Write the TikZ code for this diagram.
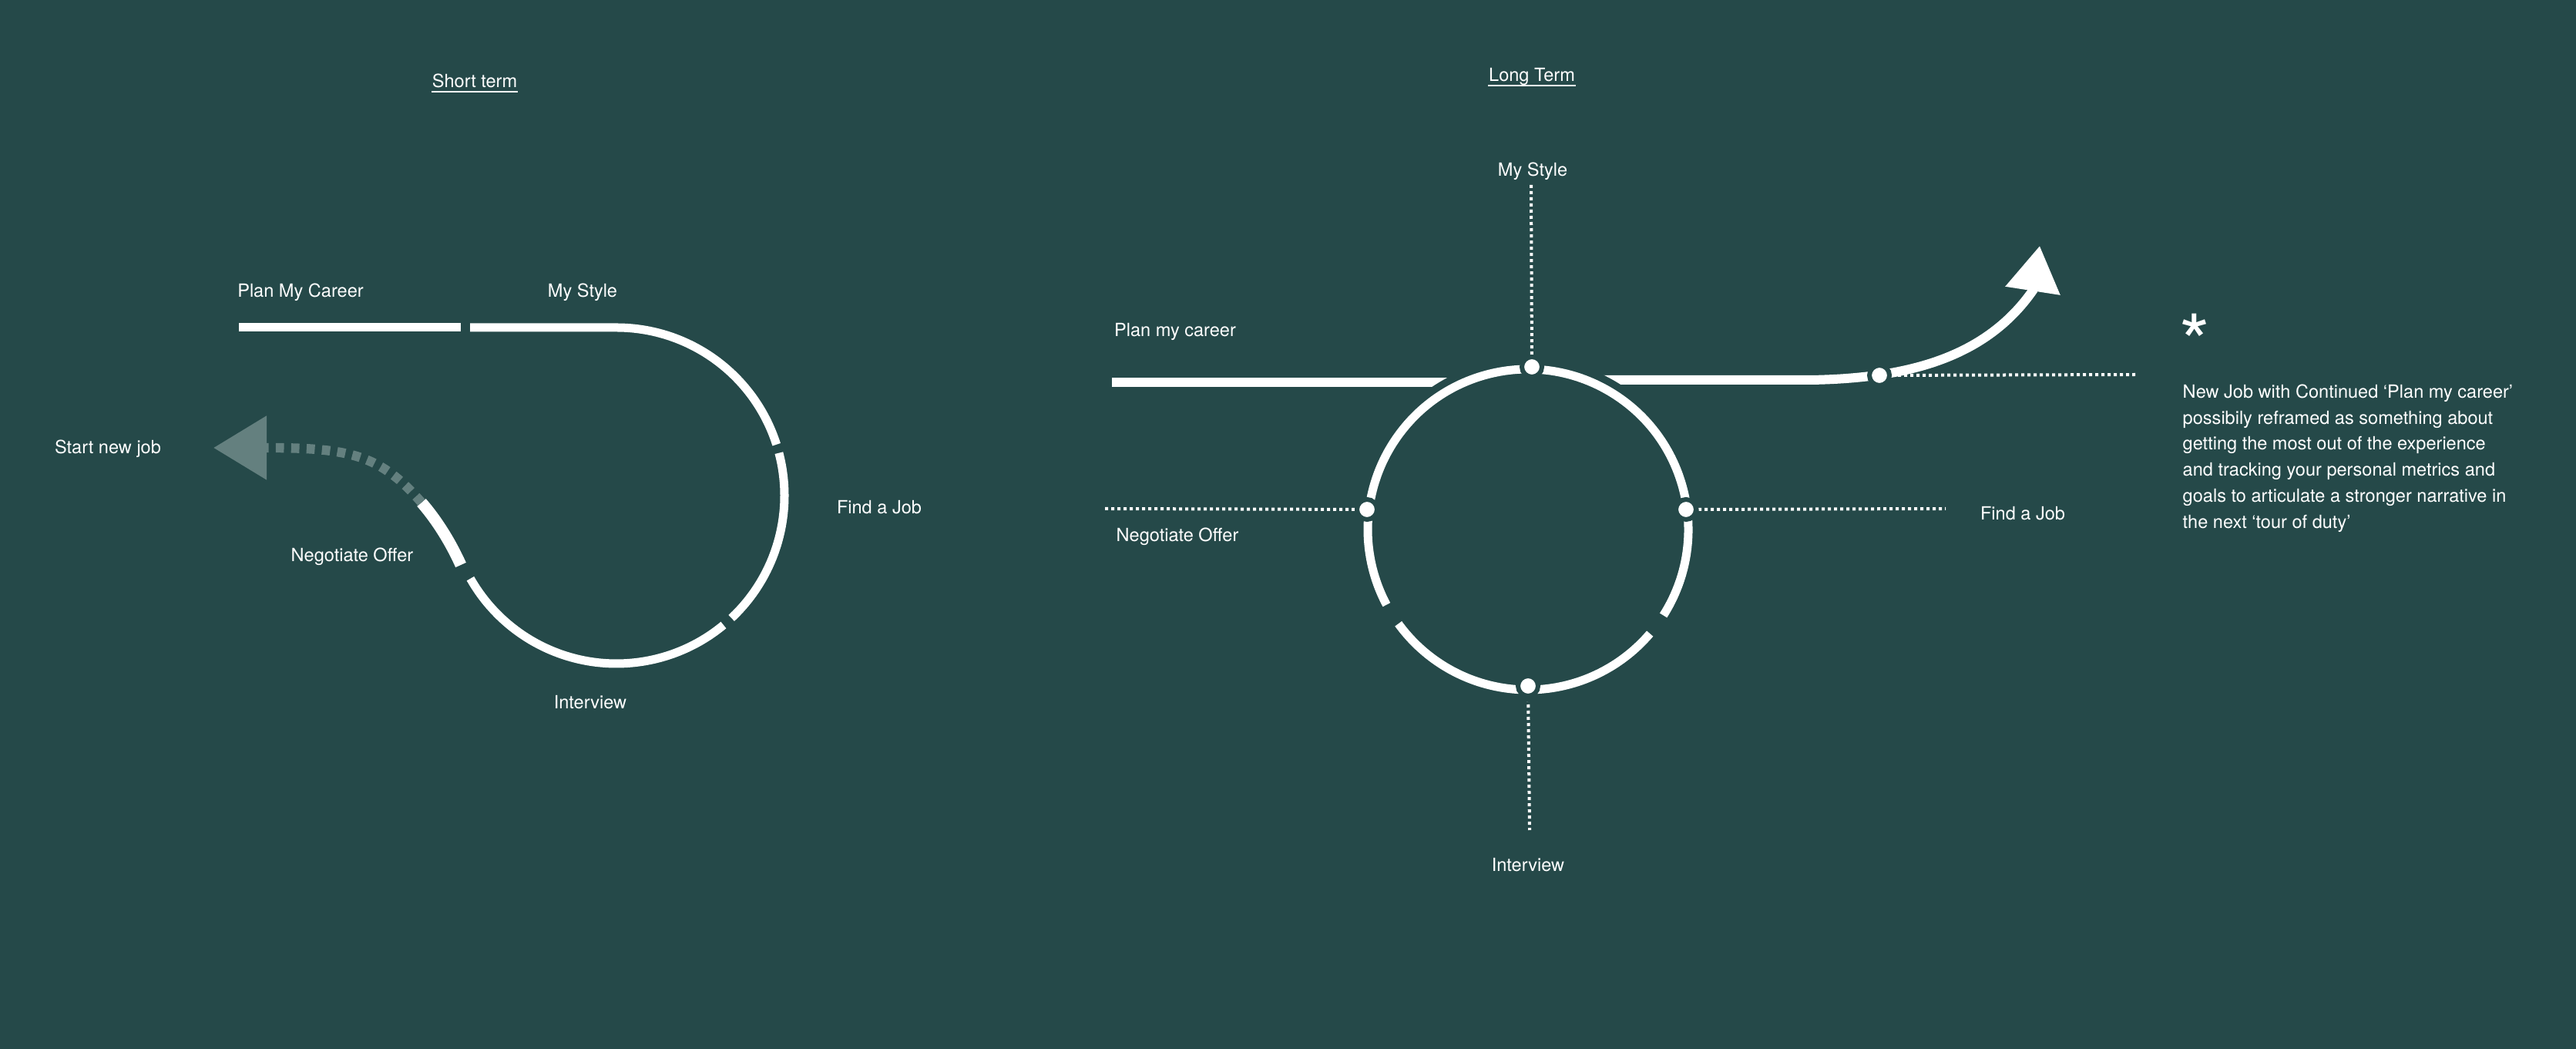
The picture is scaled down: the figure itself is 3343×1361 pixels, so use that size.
\documentclass[tikz,border=0pt]{standalone}
\usepackage{fontspec}
\setmainfont{TeX Gyre Heros}
\usetikzlibrary{arrows.meta,positioning}

\definecolor{bgteal}{RGB}{37,73,73}
\definecolor{ghostgray}{RGB}{100,128,127}
\newcommand{\lblfont}{\fontsize{6.7}{9.6}\selectfont}

\begin{document}
\begin{tikzpicture}[
    x=0.01cm, y=0.01cm,
    lbl/.style={text=white, font=\lblfont, anchor=base, inner sep=0pt},
    title/.style={lbl},
    track/.style={draw=white, line width=0.11cm},
    trackthick/.style={draw=white, line width=0.15cm},
    ghost/.style={draw=ghostgray, line width=0.123cm, dash pattern=on 0.107cm off 0.093cm},
    guide/.style={draw=white, line width=0.04cm, dash pattern=on 0.04cm off 0.04cm},
    dotmark/.style={circle, fill=white, draw=bgteal, line width=0.06cm, minimum size=0.26cm, inner sep=0pt},
    ring/.style={draw=bgteal, line width=0.30cm},
    st_tip/.style={-{Triangle[length=0.69cm, width=0.80cm]}},
    lt_tip/.style={-{Triangle[length=0.59cm, width=0.69cm]}}
]

% Background
\fill[bgteal] (0,0) rectangle (3343,1361);
\useasboundingbox (0,0) rectangle (3343,1361);

% Short term
\node[title] (st_title) at (616,1247) {Short term};
\draw[white, line width=0.015cm] ([yshift=-0.05cm]st_title.base west) -- ([yshift=-0.05cm]st_title.base east);

\node[lbl] (st_plan) at (390,975) {Plan My Career};
\node[lbl] (st_style) at (756,975) {My Style};
\node[lbl] (st_find) at (1141,694) {Find a Job};
\node[lbl] (st_interview) at (766,441) {Interview};
\node[lbl] (st_negotiate) at (457,632) {Negotiate Offer};
\node[lbl] (st_start) at (140,772) {Start new job};

\coordinate (st_c) at (800,718);
\draw[track] (310,936) -- (598,936);
\draw[track] (610,936) -- (800,936) arc[start angle=90, end angle=17.7, radius=218];
\draw[track] ([shift={(14.7:218)}]st_c) arc[start angle=14.7, end angle=-46.8, radius=218];
\draw[track] ([shift={(-50.4:218)}]st_c) arc[start angle=-50.4, end angle=-150.4, radius=218];
\draw[trackthick] (598,628) .. controls (585,657) and (567,686) .. (547,709);
\draw[ghost, st_tip] (547,709) .. controls (494,770) and (456,780) .. (346,780) -- (277,780);

% Long term
\node[title] (lt_title) at (1988,1255) {Long Term};
\draw[white, line width=0.015cm] ([yshift=-0.05cm]lt_title.base west) -- ([yshift=-0.05cm]lt_title.base east);

\node[lbl] (lt_style) at (1989,1132) {My Style};
\node[lbl] (lt_plan) at (1525,924) {Plan my career};
\node[lbl] (lt_negotiate) at (1528,658) {Negotiate Offer};
\node[lbl] (lt_find) at (2625,686) {Find a Job};
\node[lbl] (lt_interview) at (1983,230) {Interview};

\coordinate (lt_c) at (1983,674);
\coordinate (lt_top) at (1988,885);
\coordinate (lt_bot) at (1983,471);
\coordinate (lt_left) at (1774,700);
\coordinate (lt_right) at (2188,700);
\coordinate (lt_out) at (2439,874);

% dotted guides
\draw[guide] (1987,1121) -- (lt_top);
\draw[guide] (lt_bot) -- (1985,284);
\draw[guide] (1434,701) -- (lt_left);
\draw[guide] (lt_right) -- (2525,701);
\draw[guide] (lt_out) -- (2775,875);

% lines through the circle
\draw[track, line width=0.12cm] (1443,865) -- (1905,865);
\draw[track, line width=0.12cm, lt_tip] (2055,868) -- (2350,868) .. controls (2470,870) and (2575,894) .. (2638,984) -- (2647,1042);

% circle
\draw[ring] (lt_c) circle[radius=208];
\draw[track] ([shift={(-32.4:208)}]lt_c) arc[start angle=-32.4, end angle=208, radius=208];
\draw[track] ([shift={(216:208)}]lt_c) arc[start angle=216, end angle=319.5, radius=208];

% stops
\node[dotmark] (dot_top) at (lt_top) {};
\node[dotmark] (dot_bot) at (lt_bot) {};
\node[dotmark] (dot_left) at (lt_left) {};
\node[dotmark] (dot_right) at (lt_right) {};
\node[dotmark] (dot_out) at (lt_out) {};

% Note
\node[lbl, anchor=base west, font=\fontsize{29}{29}\selectfont] (star) at (2828,879) {*};
\node[lbl, anchor=north west, align=left] (note) at (2832,863) {New Job with Continued ‘Plan my career’\\possibily reframed as something about\\getting the most out of the experience\\and tracking your personal metrics and\\goals to articulate a stronger narrative in\\the next ‘tour of duty’};

\end{tikzpicture}
\end{document}
